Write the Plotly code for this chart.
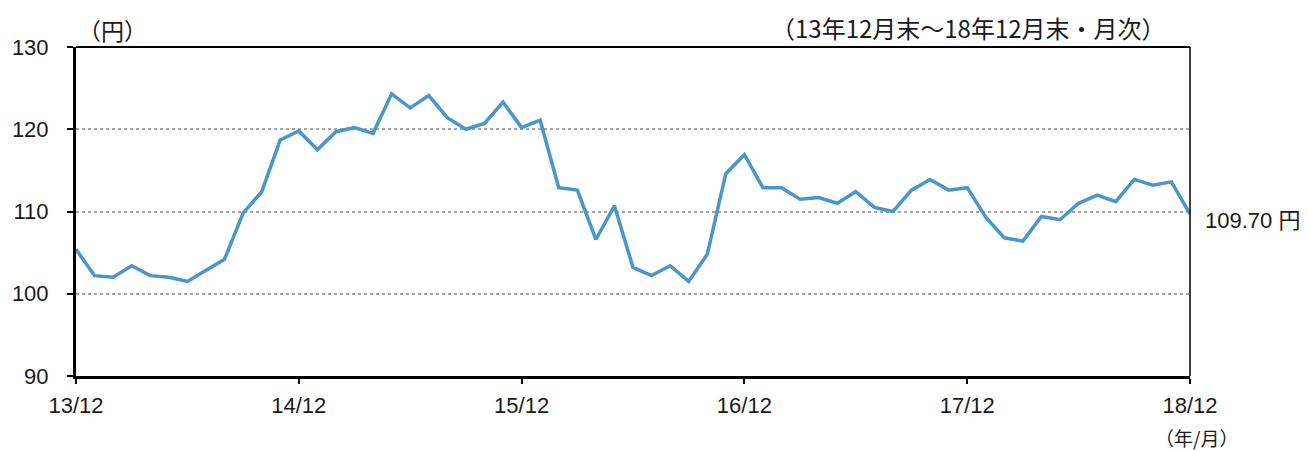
import plotly.graph_objects as go

months = list(range(61))
usdjpy = [105.4, 102.2, 102.0, 103.4, 102.2, 102.0, 101.5, 102.8, 104.2, 109.8,
          112.4, 118.7, 119.8, 117.5, 119.7, 120.2, 119.5, 124.3, 122.6, 124.1,
          121.4, 120.0, 120.7, 123.3, 120.2, 121.1, 112.9, 112.6, 106.6, 110.7,
          103.2, 102.2, 103.4, 101.5, 104.8, 114.6, 116.9, 112.9, 112.9, 111.5,
          111.7, 111.0, 112.4, 110.5, 110.0, 112.6, 113.9, 112.6, 112.9, 109.3,
          106.8, 106.4, 109.4, 109.0, 111.0, 112.0, 111.2, 113.9, 113.2, 113.6,
          109.7]
x_tickvals = [0, 12, 24, 36, 48, 60]
x_ticktext = ["13/12", "14/12", "15/12", "16/12", "17/12", "18/12"]
y_tickvals = [90, 100, 110, 120, 130]

FONT = "Liberation Sans, Arial, Noto Sans CJK JP"
JP = "Noto Sans CJK JP, Liberation Sans"
TXT = "#1a1a1a"

fig = go.Figure()
fig.add_trace(go.Scatter(x=months, y=usdjpy, mode="lines",
                         line=dict(color="#4a96cb", width=3.5), hoverinfo="skip"))

# the page body has an 8px default margin, so the figure is sized to compensate
fig.update_layout(
    width=1300, height=443,
    margin=dict(l=68, r=118, t=39, b=75, autoexpand=False),
    paper_bgcolor="white", plot_bgcolor="white",
    showlegend=False,
    font=dict(family=FONT, size=22, color=TXT),
)
fig.update_xaxes(range=[0, 60], tickvals=x_tickvals, ticktext=x_ticktext,
                 showgrid=False, zeroline=False,
                 showline=True, linecolor="black", linewidth=2.5, mirror=False,
                 ticks="outside", ticklen=5, tickwidth=1.5, tickcolor="black",
                 ticklabelstandoff=3,
                 tickfont=dict(family=FONT, size=22, color=TXT))
fig.update_yaxes(range=[90, 130], tickvals=y_tickvals,
                 showgrid=True, gridcolor="#a6a6a6", gridwidth=1.5, griddash="dot",
                 zeroline=False,
                 showline=True, linecolor="black", linewidth=3, mirror=False,
                 ticks="outside", ticklen=6, tickwidth=1.5, tickcolor="black",
                 ticklabelstandoff=14,
                 tickfont=dict(family=FONT, size=22, color=TXT))

# top and right frame lines
fig.add_shape(type="line", xref="paper", yref="paper", x0=0, x1=1, y0=1, y1=1,
              line=dict(color="black", width=2))
fig.add_shape(type="line", xref="paper", yref="paper", x0=1, x1=1, y0=0, y1=1,
              line=dict(color="black", width=1.5))

fig.add_annotation(text="（円）", xref="paper", yref="paper", x=0.0, y=1.0,
                   xanchor="left", yanchor="middle", xshift=0, yshift=17, showarrow=False,
                   font=dict(family=JP, size=23, color=TXT))
fig.add_annotation(text="（13年12月末～18年12月末・月次）", xref="paper", yref="paper",
                   x=1.0, y=1.0, xanchor="right", yanchor="middle", xshift=-22, yshift=20,
                   showarrow=False, font=dict(family=JP, size=24, color=TXT))
fig.add_annotation(text="109.70 円", xref="x", yref="y", x=60, y=usdjpy[-1],
                   xanchor="left", yanchor="middle", xshift=13, yshift=-7, showarrow=False,
                   font=dict(family=FONT, size=22, color=TXT))
fig.add_annotation(text="（年/月）", xref="paper", yref="paper", x=1.0, y=0.0,
                   xanchor="center", yanchor="middle", yshift=-61, xshift=6, showarrow=False,
                   borderpad=0, font=dict(family=JP, size=19, color=TXT))

fig.write_html("out.html")
